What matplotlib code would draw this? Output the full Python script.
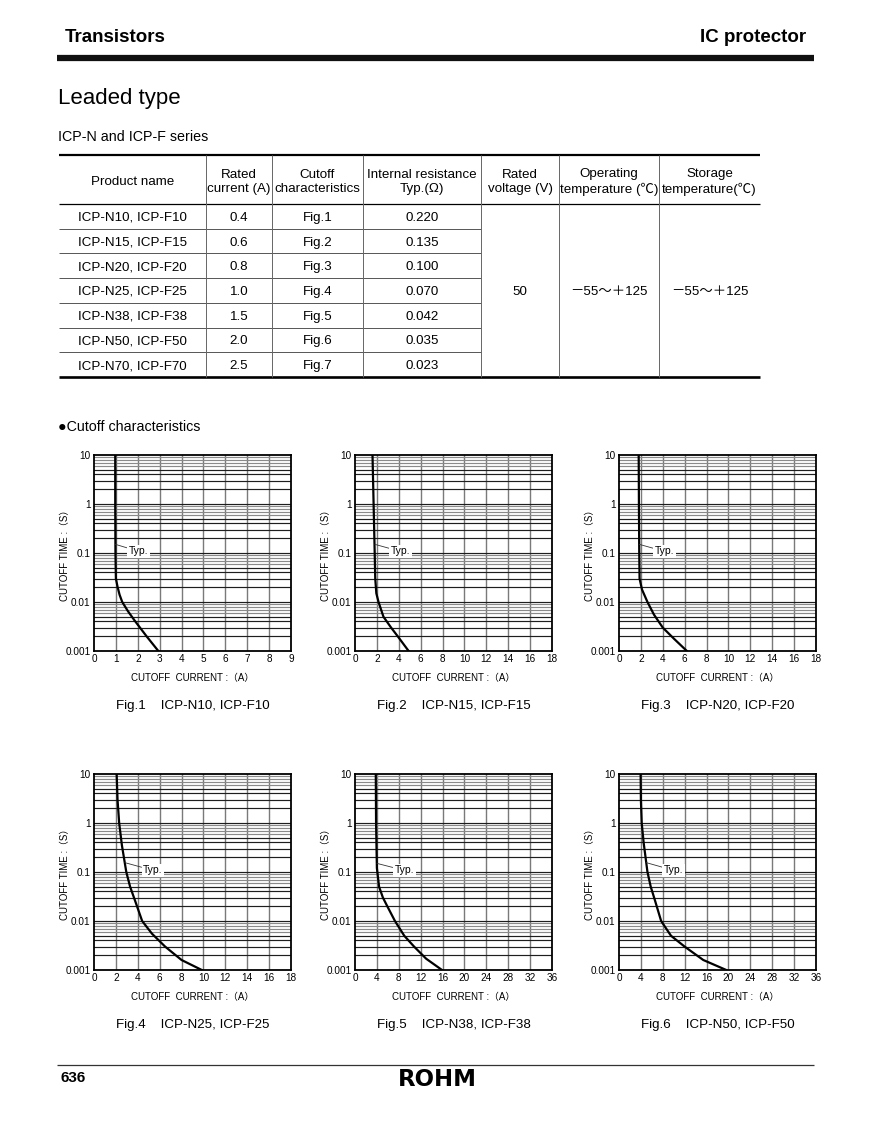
import numpy as np
import matplotlib
matplotlib.use("Agg")
import matplotlib.pyplot as plt
from matplotlib.lines import Line2D

plt.rcParams['font.family'] = ['Liberation Sans', 'Noto Sans CJK JP', 'DejaVu Sans']

# ---------------- table data ----------------
product_names = ["ICP-N10, ICP-F10", "ICP-N15, ICP-F15", "ICP-N20, ICP-F20",
                 "ICP-N25, ICP-F25", "ICP-N38, ICP-F38", "ICP-N50, ICP-F50",
                 "ICP-N70, ICP-F70"]
rated_current = ["0.4", "0.6", "0.8", "1.0", "1.5", "2.0", "2.5"]
cutoff_figs = ["Fig.1", "Fig.2", "Fig.3", "Fig.4", "Fig.5", "Fig.6", "Fig.7"]
internal_resistance = ["0.220", "0.135", "0.100", "0.070", "0.042", "0.035", "0.023"]
rated_voltage = "50"
operating_temp = "－55～＋125"
storage_temp = "－55～＋125"
header_labels = ["Product name", "Rated\ncurrent (A)", "Cutoff\ncharacteristics",
                 "Internal resistance\nTyp.(Ω)", "Rated\nvoltage (V)",
                 "Operating\ntemperature (℃)", "Storage\ntemperature(℃)"]

# ---------------- cutoff curves: current (A), time (s) ----------------
fig1_current = [0.97, 0.97, 0.98, 1.0, 1.08, 1.17, 1.29, 1.55, 1.87, 2.4, 2.94]
fig1_time = [10, 1, 0.1, 0.03, 0.02, 0.014, 0.01, 0.0065, 0.0041, 0.002, 0.001]
fig2_current = [1.6, 1.7, 1.8, 1.85, 1.95, 2.15, 2.6, 3.3, 3.9, 4.9]
fig2_time = [10, 1, 0.1, 0.03, 0.015, 0.01, 0.005, 0.003, 0.002, 0.001]
fig3_current = [1.8, 1.82, 1.85, 1.88, 2.1, 2.6, 3.2, 4.0, 5.0, 6.2]
fig3_time = [10, 1, 0.1, 0.03, 0.018, 0.01, 0.0055, 0.003, 0.0018, 0.001]
fig4_current = [2.07, 2.15, 2.3, 2.55, 2.95, 3.3, 3.7, 4.4, 5.3, 6.5, 8.0, 9.85]
fig4_time = [10, 3, 1, 0.35, 0.1, 0.05, 0.028, 0.01, 0.0055, 0.003, 0.0016, 0.001]
fig5_current = [3.8, 3.85, 4.0, 4.4, 5.1, 5.9, 7.3, 9.0, 10.8, 13.0, 15.9]
fig5_time = [10, 1, 0.12, 0.05, 0.03, 0.02, 0.01, 0.005, 0.003, 0.0017, 0.001]
fig6_current = [3.95, 4.0, 4.15, 4.5, 5.2, 5.8, 6.5, 7.7, 9.5, 12.0, 15.4, 19.6]
fig6_time = [10, 3, 1, 0.4, 0.1, 0.05, 0.028, 0.01, 0.005, 0.003, 0.0016, 0.001]

curve_currents = [fig1_current, fig2_current, fig3_current, fig4_current, fig5_current, fig6_current]
curve_times = [fig1_time, fig2_time, fig3_time, fig4_time, fig5_time, fig6_time]
x_max = [9, 18, 18, 18, 36, 36]
x_step = [1, 2, 2, 2, 4, 4]
y_ticks = [0.001, 0.01, 0.1, 1, 10]
y_tick_labels = ["0.001", "0.01", "0.1", "1", "10"]
typ_anchor = [(0.98, 0.15), (1.82, 0.15), (1.86, 0.15), (2.83, 0.155), (4.0, 0.15), (5.0, 0.155)]
typ_text = [(1.6, 0.108), (3.25, 0.108), (3.25, 0.108), (4.5, 0.108), (7.2, 0.108), (8.2, 0.108)]

# ---------------- figure ----------------
W, H = 873, 1122
fig = plt.figure(figsize=(W / 100, H / 100), dpi=100)


def fx(x):
    return x / W


def fy(y):
    return 1 - y / H


def hline(x0, x1, y, lw, color="black"):
    fig.add_artist(Line2D([fx(x0), fx(x1)], [fy(y), fy(y)], lw=lw, color=color,
                          transform=fig.transFigure, solid_capstyle="butt"))


def vline(x, y0, y1, lw, color="black"):
    fig.add_artist(Line2D([fx(x), fx(x)], [fy(y0), fy(y1)], lw=lw, color=color,
                          transform=fig.transFigure, solid_capstyle="butt"))


def ftext(x, y, s, **kw):
    fig.text(fx(x), fy(y), s, **kw)


# header
ftext(65, 37, "Transistors", fontsize=13.5, fontweight="bold", ha="left", va="center")
ftext(806, 37, "IC protector", fontsize=13.5, fontweight="bold", ha="right", va="center")
hline(57, 814, 58, lw=4.5, color="#111111")
ftext(58, 98, "Leaded type", fontsize=16, ha="left", va="center")
ftext(58, 137, "ICP-N and ICP-F series", fontsize=10.3, ha="left", va="center")

# table
tx0, tx1 = 59, 760
col_edges = [59, 206, 272, 363, 481, 559, 659, 760]
t_top, h_bot = 155, 204
row_h = 24.7
n = len(product_names)
t_bot = h_bot + n * row_h
hline(tx0, tx1, t_top, lw=1.6)
hline(tx0, tx1, h_bot, lw=0.9)
hline(tx0, tx1, t_bot, lw=1.9)
for i in range(1, n):
    hline(tx0, col_edges[4], h_bot + i * row_h, lw=0.7, color="#555555")
for xe in col_edges[1:-1]:
    vline(xe, t_top, t_bot, lw=0.7, color="#666666")
centers = [(col_edges[i] + col_edges[i + 1]) / 2 for i in range(7)]
tfs = 9.6
for j, lab in enumerate(header_labels):
    ftext(centers[j], (t_top + h_bot) / 2 + 2.5, lab, fontsize=tfs, ha="center", va="center",
          linespacing=1.3)
for i in range(n):
    yc = h_bot + (i + 0.5) * row_h + 1.5
    for j, col in enumerate([product_names, rated_current, cutoff_figs, internal_resistance]):
        ftext(centers[j], yc, col[i], fontsize=tfs, ha="center", va="center")
ymid = h_bot + n * row_h / 2 + 1.5
ftext(centers[4], ymid, rated_voltage, fontsize=tfs, ha="center", va="center")
ftext(centers[5], ymid, operating_temp, fontsize=tfs, ha="center", va="center")
ftext(centers[6], ymid, storage_temp, fontsize=tfs, ha="center", va="center")

ftext(58, 427, "●Cutoff characteristics", fontsize=10.3, ha="left", va="center")

# charts
rows_y = [(455, 651), (774, 970)]
cols_x = [(94, 291), (355, 552), (619, 816)]
for k in range(6):
    top, bot = rows_y[k // 3]
    x0, x1 = cols_x[k % 3]
    ax = fig.add_axes([fx(x0), fy(bot), (x1 - x0) / W, (bot - top) / H])
    ax.set_yscale("log")
    ax.set_xlim(0, x_max[k])
    ax.set_ylim(0.001, 10)
    xt = np.arange(0, x_max[k] + x_step[k] / 2, x_step[k])
    ax.set_xticks(xt)
    ax.set_xticklabels([str(int(v)) for v in xt])
    ax.set_yticks(y_ticks)
    ax.set_yticklabels(y_tick_labels)
    ax.minorticks_off()
    ax.tick_params(length=0, labelsize=7.2, pad=2.5)
    for v in xt[1:-1]:
        ax.axvline(v, color="#7a7a7a", lw=1.0, zorder=1)
    for d in [0.001, 0.01, 0.1, 1]:
        for m in range(1, 10):
            if d == 0.001 and m == 1:
                continue
            c = "#1e1e1e" if m <= 5 else "#8a8a8a"
            ax.axhline(d * m, color=c, lw=0.85, zorder=1)
    ax.plot(curve_currents[k], curve_times[k], color="black", lw=1.6, zorder=3,
            solid_joinstyle="round")
    for s in ax.spines.values():
        s.set_linewidth(1.3)
    ax.annotate("Typ.", xy=typ_anchor[k], xytext=typ_text[k], fontsize=7.5,
                ha="left", va="center", zorder=4,
                bbox=dict(fc="white", ec="none", pad=1.2),
                arrowprops=dict(arrowstyle="-", lw=0.6, color="#333333",
                                shrinkA=0, shrinkB=0))
    hpx = bot - top
    ax.text(-29 / (x1 - x0), 0.5, "CUTOFF TIME :（S）", rotation=90, fontsize=7,
            transform=ax.transAxes, ha="center", va="center")
    ax.text(0.5, -27 / hpx, "CUTOFF  CURRENT :（A）", fontsize=7,
            transform=ax.transAxes, ha="center", va="center")
    ax.text(0.5, -55 / hpx, f"{cutoff_figs[k]}    {product_names[k]}", fontsize=9.6,
            transform=ax.transAxes, ha="center", va="center")

# footer
hline(57, 814, 1065, lw=0.9, color="#333333")
ftext(60, 1078, "636", fontsize=11, fontweight="bold", ha="left", va="center")
ftext(437, 1080, "ROHM", fontsize=16.5, fontweight="bold", family="DejaVu Sans",
      ha="center", va="center")

fig.savefig("out.png", dpi=100)
